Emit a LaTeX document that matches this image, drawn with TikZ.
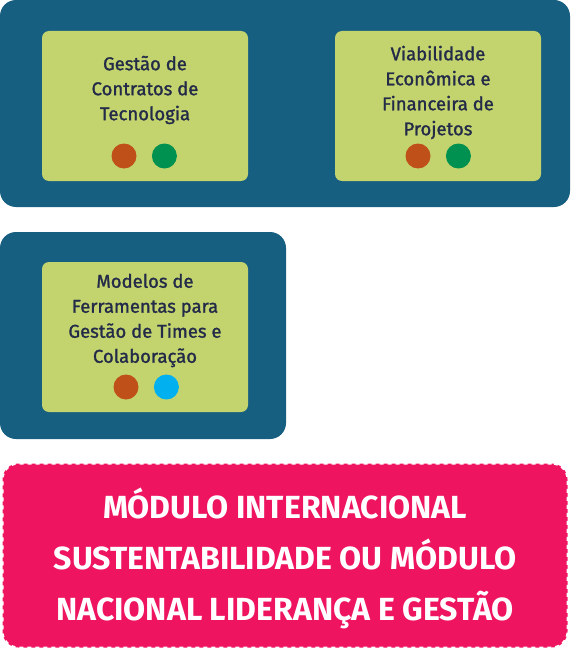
\documentclass[tikz,border=0pt]{standalone}
\usepackage{fontspec}
\setmainfont{Fira Sans}
\newfontfamily\coursefont{Fira Sans}[FakeBold=1.4]
\usepackage{tikz}
\usetikzlibrary{positioning}
\definecolor{panelblue}{HTML}{165F80}
\definecolor{coursegreen}{HTML}{C3D46E}
\definecolor{titlenavy}{HTML}{232B48}
\definecolor{dotorange}{HTML}{C0501A}
\definecolor{dotgreen}{HTML}{00904F}
\definecolor{dotcyan}{HTML}{00B0EF}
\definecolor{modulepink}{HTML}{EE1460}
\tikzstyle{panel} = [fill=panelblue, rounded corners=16pt, inner sep=0pt]
\tikzstyle{course} = [fill=coursegreen, rounded corners=7pt, minimum width=206pt, minimum height=150pt, inner sep=0pt]
\tikzstyle{title} = [text=titlenavy, align=center, font=\coursefont\fontsize{18.5}{25}\selectfont]
\tikzstyle{dot} = [circle, minimum size=25pt, inner sep=0pt]
\tikzstyle{module} = [fill=modulepink, draw=white, line width=2pt, dash pattern=on 4pt off 4pt, rounded corners=16pt, minimum width=565pt, minimum height=184pt]

\begin{document}
\begin{tikzpicture}[x=1pt,y=-1pt]
	\useasboundingbox (0,0) rectangle (570,650);
	% panels
	\node[panel, minimum width=570pt, minimum height=207pt] (row1) at (285,103.5) {};
	\node[panel, minimum width=286pt, minimum height=207pt] (row2) at (143,335.5) {};
	% courses
	\node[course] (gestao) at (145,106) {};
	\node[title] (gestao-t) at (145,90) {Gestão de\\Contratos de\\Tecnologia};
	\node[dot, fill=dotorange] (gestao-a) at (124,156) {};
	\node[dot, fill=dotgreen, right=15pt of gestao-a] (gestao-b) {};
	\node[course] (viab) at (438,106) {};
	\node[title] (viab-t) at (438,92.5) {Viabilidade\\Econômica e\\Financeira de\\Projetos};
	\node[dot, fill=dotorange] (viab-a) at (418,156) {};
	\node[dot, fill=dotgreen, right=15pt of viab-a] (viab-b) {};
	\node[course] (modelos) at (145,337) {};
	\node[title] (modelos-t) at (145,320.5) {Modelos de\\Ferramentas para\\Gestão de Times e\\Colaboração};
	\node[dot, fill=dotorange] (modelos-a) at (126,387) {};
	\node[dot, fill=dotcyan, right=15pt of modelos-a] (modelos-b) {};
	% module
	\node[module] (modulo) at (285,555.5) {};
	\node[text=white, align=center, font=\bfseries\fontsize{32}{51}\selectfont] (modulo-t) at (285,558.5) {MÓDULO INTERNACIONAL\\SUSTENTABILIDADE OU MÓDULO\\NACIONAL LIDERANÇA E GESTÃO};
\end{tikzpicture}
\end{document}
